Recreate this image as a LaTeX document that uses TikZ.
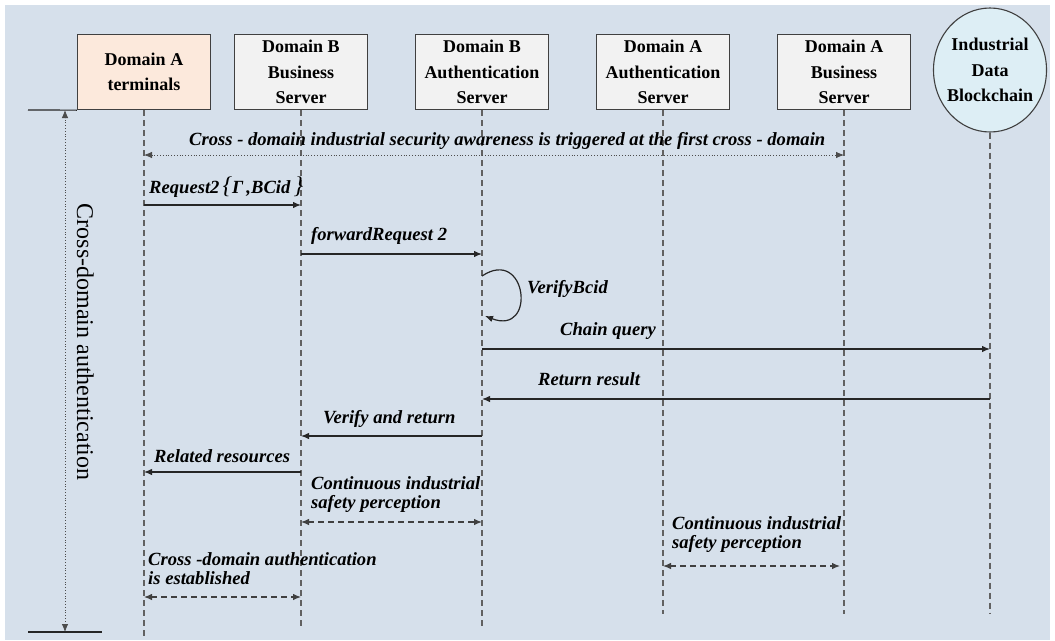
\documentclass[tikz,border=0pt]{standalone}
\usepackage{fontspec}
\setmainfont{Liberation Serif}
\usetikzlibrary{arrows.meta,positioning,shapes.geometric}

\definecolor{bg_blue}{HTML}{D6E0EB}
\definecolor{box_grey}{HTML}{F2F2F2}
\definecolor{term_peach}{HTML}{FCE9DC}
\definecolor{chain_blue}{HTML}{DDEEF5}

\tikzset{
        % Servers
        node_server/.style={draw=black!75, line width=1.3pt, fill=box_grey, minimum width=133pt, minimum height=75pt, align=center, inner sep=0pt, font=\fontsize{18}{25.5}\selectfont\bfseries},
        % Terminal
        node_terminal/.style={node_server, fill=term_peach},
        % Blockchain
        node_chain/.style={ellipse, draw=black!75, line width=1.1pt, fill=chain_blue, minimum width=113pt, minimum height=124pt, align=center, inner xsep=-3.5pt, inner ysep=0pt, font=\fontsize{18}{25.5}\selectfont\bfseries},
        % Lifelines
        life_line/.style={dash pattern=on 6pt off 4pt, line width=1.1pt, draw=black!62},
        % Messages
        msg_arrow/.style={-{Latex[length=8pt,width=6.5pt]}, line width=1.2pt, draw=black!85},
        sense_arrow/.style={{Latex[length=8pt,width=6.5pt]}-{Latex[length=8pt,width=6.5pt]}, dash pattern=on 6pt off 4pt, line width=1.1pt, draw=black!75},
        aware_arrow/.style={{Latex[length=8pt,width=6.5pt]}-{Latex[length=8pt,width=6.5pt]}, dotted, line width=0.8pt, draw=black!70},
        msg_label/.style={inner sep=0pt, align=left, font=\fontsize{18.6}{19}\selectfont\bfseries\itshape}
}
\newcommand{\bigbrace}[1]{{\fontsize{24}{24}\selectfont\mdseries #1}}

\begin{document}
\begin{tikzpicture}[x=1pt, y=-1pt]
            \useasboundingbox (0,0) rectangle (1055,640);
            \fill[bg_blue] (5,5) rectangle (1050,640);

            % Participants
            \node[node_terminal] (term_a) at (144,72) {Domain A\\terminals};
            \node[node_server] (bus_b) at (301,72) {Domain B\\Business\\Server};
            \node[node_server] (auth_b) at (482,72) {Domain B\\Authentication\\Server};
            \node[node_server] (auth_a) at (663,72) {Domain A\\Authentication\\Server};
            \node[node_server] (bus_a) at (844,72) {Domain A\\Business\\Server};
            \node[node_chain] (chain) at (990,70) {Industrial\\Data\\Blockchain};

            % Row heights
            \coordinate (r_aware) at (0,155);
            \coordinate (r_req) at (0,205);
            \coordinate (r_fwd) at (0,254);
            \coordinate (r_loop_s) at (0,276);
            \coordinate (r_loop_e) at (0,316);
            \coordinate (r_query) at (0,349);
            \coordinate (r_ret) at (0,399);
            \coordinate (r_ver) at (0,436);
            \coordinate (r_rel) at (0,472);
            \coordinate (r_sense_b) at (0,522);
            \coordinate (r_sense_a) at (0,566);
            \coordinate (r_est) at (0,597);
            \coordinate (end_long) at (0,640);
            \coordinate (end_mid) at (0,629);
            \coordinate (end_short) at (0,614);

            % Lifelines
            \draw[life_line] (term_a.south) -- (term_a |- end_long);
            \draw[life_line] (bus_b.south) -- (bus_b |- end_mid);
            \draw[life_line] (auth_b.south) -- (auth_b |- end_mid);
            \draw[life_line] (auth_a.south) -- (auth_a |- end_short);
            \draw[life_line] (bus_a.south) -- (bus_a |- end_short);
            \draw[life_line] (chain.south) -- (chain |- end_short);

            % Session bracket
            \coordinate (sess_top) at (65,110);
            \coordinate (sess_bot) at (65,632);
            \draw[line width=1.2pt, black!85] (28,110) -- (term_a.south west);
            \draw[line width=1.2pt, black!85] (28,632) -- (102,632);
            \draw[aware_arrow] (sess_bot) -- (sess_top);
            \node[rotate=-90, anchor=base, font=\fontsize{24}{24}\selectfont] (sess_label) at (77,342) {Cross-domain authentication};

            % Messages
            \draw[aware_arrow] (term_a |- r_aware) -- (bus_a |- r_aware);
            \node[msg_label, anchor=base west] (lbl_aware) at (189,145) {Cross - domain industrial security awareness is triggered at the first cross - domain};

            \draw[msg_arrow] (term_a |- r_req) -- (bus_b |- r_req);
            \node[msg_label, anchor=base west] (lbl_req) at (149,193) {Request2\,\bigbrace{\{}Γ\,,BCid\,\bigbrace{\}}};

            \draw[msg_arrow] (bus_b |- r_fwd) -- (auth_b |- r_fwd);
            \node[msg_label, anchor=base west] (lbl_fwd) at (311,240) {forwardRequest 2};

            \draw[msg_arrow] (auth_b |- r_loop_s) .. controls +(45,-30) and +(52,20) .. ([xshift=3pt]auth_b |- r_loop_e);
            \node[msg_label, anchor=base west] (lbl_loop) at (527,293) {VerifyBcid};

            \draw[msg_arrow] (auth_b |- r_query) -- (chain |- r_query);
            \node[msg_label, anchor=base west] (lbl_query) at (560,335) {Chain query};

            \draw[msg_arrow] (chain |- r_ret) -- (auth_b |- r_ret);
            \node[msg_label, anchor=base west] (lbl_ret) at (538,385) {Return result};

            \draw[msg_arrow] (auth_b |- r_ver) -- (bus_b |- r_ver);
            \node[msg_label, anchor=base west] (lbl_ver) at (323,423) {Verify and return};

            \draw[msg_arrow] (bus_b |- r_rel) -- (term_a |- r_rel);
            \node[msg_label, anchor=base west] (lbl_rel) at (154,462) {Related resources};

            \draw[sense_arrow] (bus_b |- r_sense_b) -- (auth_b |- r_sense_b);
            \node[msg_label, anchor=north west] (lbl_sense_b) at (311,476) {Continuous industrial\\safety perception};

            \draw[sense_arrow] (auth_a |- r_sense_a) -- ([xshift=-4pt]bus_a |- r_sense_a);
            \node[msg_label, anchor=north west] (lbl_sense_a) at (672,516) {Continuous industrial\\safety perception};

            \draw[sense_arrow] (term_a |- r_est) -- (bus_b |- r_est);
            \node[msg_label, anchor=north west] (lbl_est) at (148,552) {Cross -domain authentication\\is established};
\end{tikzpicture}
\end{document}
